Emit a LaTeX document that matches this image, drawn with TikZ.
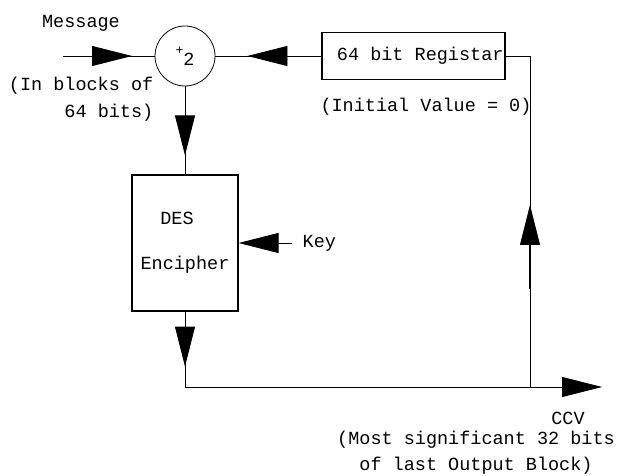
\documentclass[tikz,border=0pt]{standalone}
\usepackage{fontspec}
\setmainfont{Liberation Mono}
\usetikzlibrary{arrows.meta,decorations.markings}
\newcommand{\plotfont}{\fontsize{18.5}{27}\selectfont}

\begin{document}
\begin{tikzpicture}[x=1pt,y=-1pt,line width=0.8pt,font=\plotfont,
  box/.style={draw,rectangle,line width=1.2pt,inner sep=0pt},
  midtip/.style={postaction={decorate},decoration={markings,
    mark=at position #1 with {\arrow{Triangle[length=40pt,width=20pt]}}}},
  endtip/.style={-{Triangle[length=40pt,width=20pt]}}]
\useasboundingbox (0,0) rectangle (622,476);
% blocks
\node[draw,circle,minimum size=60pt,inner sep=0pt] (xor) at (185,56) {\raisebox{5pt}{\fontsize{13}{13}\selectfont+}\raisebox{-6pt}{2}};
\node[box,minimum width=183pt,minimum height=47pt,text width=180pt,align=flush right] (reg) at (413.5,56) {64 bit Registar};
\node[box,minimum width=106pt,minimum height=136pt,align=center] (des) at (185,243) {DES\hspace*{16pt}\\[18pt]Encipher};
% labels
\node (msglbl) at (81,23) {Message};
\node[anchor=east,align=right] (blocks) at (157,99.5) {(In blocks of\\64 bits)};
\node (initlbl) at (426,107) {(Initial Value = 0)};
\node[anchor=west] (keylbl) at (299,243) {Key};
\node (ccvlbl) at (568,418) {CCV};
\node[align=center] (ccvnote) at (476,453) {(Most significant 32 bits\\[-1pt]of last Output Block)};
% free ends
\coordinate (msgin) at (63,56);
\coordinate (keyin) at (292,243);
\coordinate (outc) at (185,387);
\coordinate (outend) at (602,387);
\coordinate (fbk) at (530,387);
\coordinate (turn) at (530,56);
% connectors
\draw[midtip=69pt] (msgin) -- (xor);
\draw[midtip=74pt] (reg) -- (xor);
\draw[midtip=69pt] (xor) -- (des);
\draw[endtip] (keyin) -- (des);
\draw[midtip=55pt,endtip] (des) -- (outc) -- (outend);
\draw[midtip=182pt] (fbk) -- (turn) -- (reg);
\draw[line width=2pt] (fbk) ++(0,-98) -- ++(0,-45);
\end{tikzpicture}
\end{document}
